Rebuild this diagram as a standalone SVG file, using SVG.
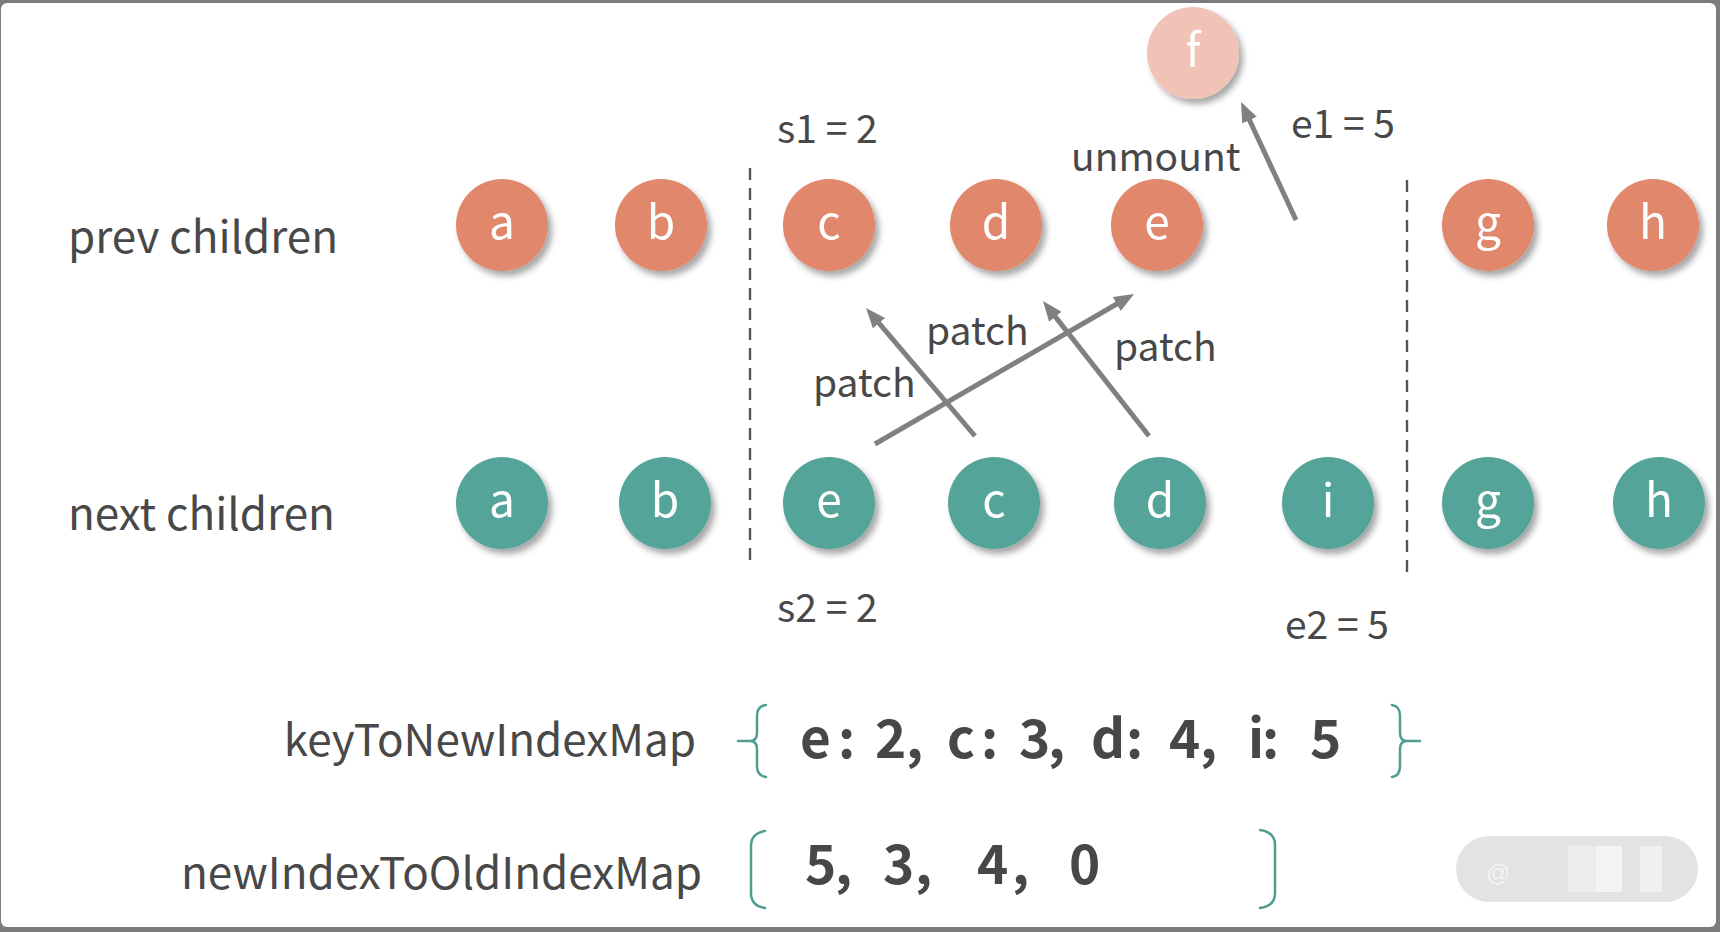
<svg xmlns="http://www.w3.org/2000/svg" width="1720" height="932" viewBox="0 0 1720 932">
<style>
.lbl{font-family:"Noto Sans CJK SC","Source Sans Pro","Liberation Sans",sans-serif;fill:#484848;font-size:44px}
.sm{font-family:"Noto Sans CJK SC","Liberation Sans",sans-serif;fill:#484848;font-size:39px}
.val{font-family:"Noto Sans CJK SC","Liberation Sans",sans-serif;fill:#474747;font-size:53px;font-weight:bold}
.nt{font-family:"Noto Sans CJK SC","Liberation Sans",sans-serif;fill:#ffffff;font-size:46px;text-anchor:middle}
.prev{fill:#E0876C}
.next{fill:#55A499}
.gone{fill:#F0C3B6}
.dash{stroke:#555555;stroke-width:2.4;stroke-dasharray:12 8;fill:none}
.arr{stroke:#808080;stroke-width:5;fill:none;marker-end:url(#ah)}
.br{stroke:#4E9E92;stroke-width:2.5;fill:none;stroke-linecap:round}
</style>
<defs>
<marker id="ah" viewBox="0 0 10 8" refX="2" refY="4" markerWidth="20" markerHeight="16" orient="auto" markerUnits="userSpaceOnUse">
<path d="M0,0 L10,4 L0,8 z" fill="#808080"/>
</marker>
<filter id="sh" x="-30%" y="-30%" width="170%" height="170%">
<feDropShadow dx="4" dy="5" stdDeviation="3" flood-color="#000" flood-opacity="0.35"/>
</filter>
</defs>
<rect x="0" y="0" width="1720" height="932" fill="#7c7c7c"/>
<rect x="1" y="3" width="1715" height="924" rx="6" fill="#ffffff"/>

<g id="labels">
<text class="lbl" x="68" y="253">prev children</text>
<text class="lbl" x="68" y="530">next children</text>
<text class="sm" x="777" y="143">s1 = 2</text>
<text class="sm" x="777" y="622">s2 = 2</text>
<text class="sm" x="1291" y="138">e1 = 5</text>
<text class="sm" x="1285" y="639">e2 = 5</text>
<text class="sm" x="1071" y="171">unmount</text>
<text class="sm" x="813" y="397">patch</text>
<text class="sm" x="926" y="345">patch</text>
<text class="sm" x="1114" y="361">patch</text>
</g>

<g id="dividers">
<line class="dash" x1="750" y1="168" x2="750" y2="568"/>
<line class="dash" x1="1407" y1="180" x2="1407" y2="578"/>
</g>

<g id="prev-a" filter="url(#sh)"><circle class="prev" cx="502" cy="225" r="46"/><text class="nt" x="502" y="239">a</text></g>
<g id="prev-b" filter="url(#sh)"><circle class="prev" cx="661" cy="225" r="46"/><text class="nt" x="661" y="239">b</text></g>
<g id="prev-c" filter="url(#sh)"><circle class="prev" cx="829" cy="225" r="46"/><text class="nt" x="829" y="239">c</text></g>
<g id="prev-d" filter="url(#sh)"><circle class="prev" cx="996" cy="225" r="46"/><text class="nt" x="996" y="239">d</text></g>
<g id="prev-e" filter="url(#sh)"><circle class="prev" cx="1157" cy="225" r="46"/><text class="nt" x="1157" y="239">e</text></g>
<g id="prev-g" filter="url(#sh)"><circle class="prev" cx="1488" cy="225" r="46"/><text class="nt" x="1488" y="239">g</text></g>
<g id="prev-h" filter="url(#sh)"><circle class="prev" cx="1653" cy="225" r="46"/><text class="nt" x="1653" y="239">h</text></g>
<g id="prev-f" filter="url(#sh)"><circle class="gone" cx="1193" cy="53" r="46"/><text class="nt" x="1193" y="67">f</text></g>

<g id="next-a" filter="url(#sh)"><circle class="next" cx="502" cy="503" r="46"/><text class="nt" x="502" y="517">a</text></g>
<g id="next-b" filter="url(#sh)"><circle class="next" cx="665" cy="503" r="46"/><text class="nt" x="665" y="517">b</text></g>
<g id="next-e" filter="url(#sh)"><circle class="next" cx="829" cy="503" r="46"/><text class="nt" x="829" y="517">e</text></g>
<g id="next-c" filter="url(#sh)"><circle class="next" cx="994" cy="503" r="46"/><text class="nt" x="994" y="517">c</text></g>
<g id="next-d" filter="url(#sh)"><circle class="next" cx="1160" cy="503" r="46"/><text class="nt" x="1160" y="517">d</text></g>
<g id="next-i" filter="url(#sh)"><circle class="next" cx="1328" cy="503" r="46"/><text class="nt" x="1328" y="517">i</text></g>
<g id="next-g" filter="url(#sh)"><circle class="next" cx="1488" cy="503" r="46"/><text class="nt" x="1488" y="517">g</text></g>
<g id="next-h" filter="url(#sh)"><circle class="next" cx="1659" cy="503" r="46"/><text class="nt" x="1659" y="517">h</text></g>

<g id="connectors">
<line class="arr" x1="1296" y1="220" x2="1247.8" y2="116.5"/>
<line class="arr" x1="975" y1="436" x2="876.4" y2="320.2"/>
<line class="arr" x1="875" y1="444" x2="1120.2" y2="302"/>
<line class="arr" x1="1149" y1="436" x2="1052.9" y2="313.6"/>
</g>

<g id="key-map">
<text class="lbl" x="696" y="756" text-anchor="end">keyToNewIndexMap</text>
<path class="br" d="M766,705 Q757,706 757,716 L757,733 Q757,741 750,741 L738,741 M750,741 Q757,741 757,749 L757,766 Q757,776 766,777"/>
<text class="val" y="758" x="800 838 852 875 906 920 947 981 995 1019 1048 1062 1091 1126 1140 1169 1200 1214 1248 1262 1276 1310">e: 2, c: 3, d: 4, i: 5</text>
<path class="br" d="M1392,705 Q1400,706 1400,716 L1400,733 Q1400,741 1407,741 L1420,741 M1407,741 Q1400,741 1400,749 L1400,766 Q1400,776 1392,777"/>
</g>

<g id="index-map">
<text class="lbl" x="702" y="889" text-anchor="end">newIndexToOldIndexMap</text>
<path class="br" d="M765,831 Q751,833 751,846 L751,893 Q751,906 765,908"/>
<text class="val" y="884" x="805 835 850 883 915 930 977 1012 1027 1069">5, 3, 4, 0</text>
<path class="br" d="M1260,830 Q1275,832 1275,845 L1275,893 Q1275,906 1260,908"/>
</g>

<g id="watermark">
<rect x="1456" y="836" width="242" height="66" rx="33" fill="#e3e3e3"/>
<rect x="1568" y="846" width="28" height="46" fill="#ececec"/>
<rect x="1596" y="846" width="26" height="46" fill="#f4f4f4"/>
<rect x="1640" y="846" width="22" height="46" fill="#f0f0f0"/>
<text x="1486" y="881" font-family="Liberation Sans, sans-serif" font-size="24" fill="#f4f4f4">@</text>
</g>
</svg>
